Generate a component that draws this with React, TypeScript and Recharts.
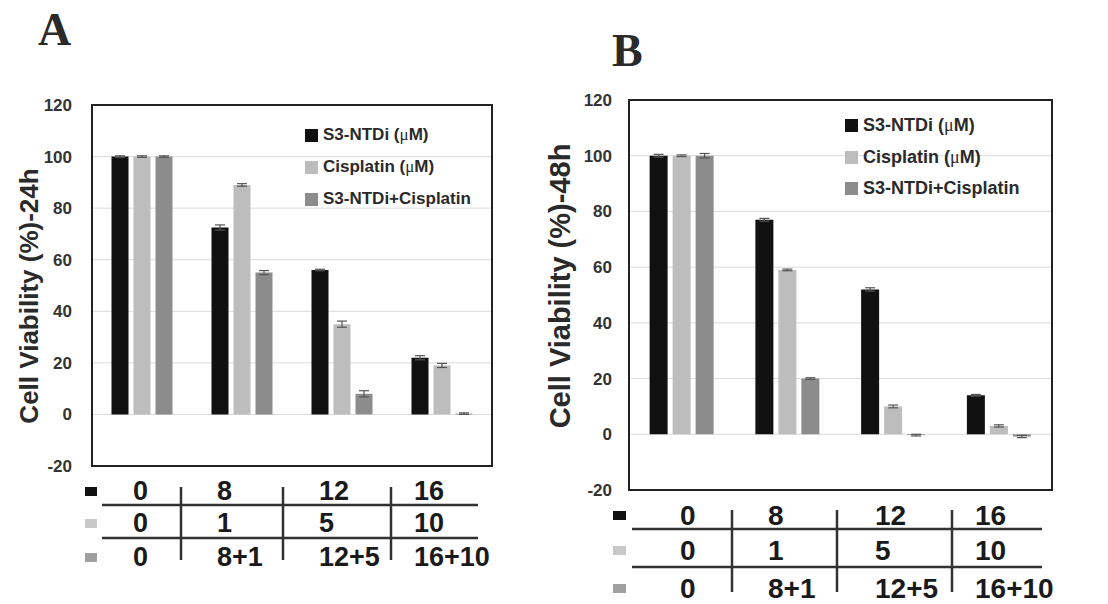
import { Bar, BarChart, CartesianGrid, ErrorBar, Legend, ReferenceArea, XAxis, YAxis } from "recharts";

const SANS = '"Liberation Sans", Arial, sans-serif';
const SERIF = '"Liberation Serif", "Times New Roman", serif';
const BLACK = "#111111";
const LIGHT = "#bdbdbd";
const MID = "#8c8c8c";
const INK = "#2a2a2a";

const groups = ["0", "8", "12", "16"];
const s3Doses = ["0", "8", "12", "16"];
const cisDoses = ["0", "1", "5", "10"];
const comboDoses = ["0", "8+1", "12+5", "16+10"];
const yTicks = [-20, 0, 20, 40, 60, 80, 100, 120];

// 24h
const s3_24h = [100, 72.5, 56, 22];
const cis_24h = [100, 89, 35, 19];
const combo_24h = [100, 55, 8, 0.3];
const s3Err_24h = [0.3, 1.0, 0.3, 0.8];
const cisErr_24h = [0.3, 0.5, 1.2, 0.8];
const comboErr_24h = [0.3, 0.8, 1.2, 0.3];

// 48h
const s3_48h = [100, 77, 52, 14];
const cis_48h = [100, 59, 10, 3];
const combo_48h = [100, 20, -0.3, -0.8];
const s3Err_48h = [0.5, 0.5, 0.6, 0.3];
const cisErr_48h = [0.3, 0.3, 0.5, 0.4];
const comboErr_48h = [0.8, 0.3, 0.3, 0.4];

const names = ["S3-NTDi (\u03bcM)", "Cisplatin (\u03bcM)", "S3-NTDi+Cisplatin"];
const doseRows = [s3Doses, cisDoses, comboDoses];
const rowColors = [BLACK, "#c8c8c8", "#a0a0a0"];

function buildRows(s3: number[], cis: number[], combo: number[], s3e: number[], cise: number[], combe: number[]) {
  return groups.map((g, i) => ({
    group: g,
    s3: s3[i],
    cis: cis[i],
    combo: combo[i],
    s3Err: s3e[i],
    cisErr: cise[i],
    comboErr: combe[i],
  }));
}

const data24 = buildRows(s3_24h, cis_24h, combo_24h, s3Err_24h, cisErr_24h, comboErr_24h);
const data48 = buildRows(s3_48h, cis_48h, combo_48h, s3Err_48h, cisErr_48h, comboErr_48h);

interface PanelProps {
  data: ReturnType<typeof buildRows>;
  left: number;
  width: number;
  axisWidth: number;
  top: number;
  bottom: number;
  right: number;
  yLabel: string;
  yLabelX: number;
  yLabelY: number;
  yLabelSize: number;
  tickMargin: number;
  legendTop: number;
  legendRow: number;
  legendSize: number;
}

// the mu in the original is set in a serif face
function LegendText({ text }: { text: string }) {
  const parts = text.split("\u03bc");
  if (parts.length < 2) return <span>{text}</span>;
  return (
    <span>
      {parts[0]}
      <span style={{ fontFamily: SERIF, fontWeight: 400 }}>{"\u03bc"}</span>
      {parts[1]}
    </span>
  );
}

function LegendBox({ payload, row, size }: { payload?: any[]; row: number; size: number }) {
  if (!payload?.length) return null;
  const items = [...payload].sort((a, b) => names.indexOf(a.value) - names.indexOf(b.value));
  return (
    <div style={{ fontFamily: SANS, fontWeight: 700, fontSize: size, color: INK }}>
      {items.map((p) => (
        <div key={p.value} style={{ display: "flex", alignItems: "center", height: row, whiteSpace: "nowrap" }}>
          <span style={{ display: "inline-block", width: 13, height: 13, background: p.color, marginRight: 5 }} />
          <LegendText text={p.value} />
        </div>
      ))}
    </div>
  );
}

function Panel(p: PanelProps) {
  return (
    <div style={{ position: "absolute", left: p.left, top: 0 }}>
      <BarChart
        width={p.width}
        height={604}
        data={p.data}
        margin={{ top: p.top, right: p.right, bottom: p.bottom, left: 0 }}
        barCategoryGap="19.5%"
        barGap={5}
      >
        <CartesianGrid stroke="#dcdcdc" vertical={false} />
        <XAxis dataKey="group" hide />
        <YAxis
          type="number"
          domain={[-20, 120]}
          ticks={yTicks}
          interval={0}
          width={p.axisWidth}
          axisLine={false}
          tickLine={false}
          tickSize={0}
          tickMargin={p.tickMargin}
          tick={{ fill: "#333", fontSize: 17, fontWeight: 700, fontFamily: SANS }}
          label={() => (
            <text
              x={p.yLabelX}
              y={p.yLabelY}
              transform={`rotate(-90 ${p.yLabelX} ${p.yLabelY})`}
              textAnchor="middle"
              fontFamily={SANS}
              fontWeight={700}
              fontSize={p.yLabelSize}
              fill={INK}
            >
              {p.yLabel}
            </text>
          )}
        />
        <Legend
          layout="vertical"
          align="center"
          verticalAlign="middle"
          wrapperStyle={{ left: 305, top: p.legendTop, width: 220 }}
          content={(props: any) => <LegendBox payload={props.payload} row={p.legendRow} size={p.legendSize} />}
        />
        <Bar dataKey="s3" name={names[0]} fill={BLACK} isAnimationActive={false}>
          <ErrorBar dataKey="s3Err" width={5} stroke="#555" strokeWidth={1.2} isAnimationActive={false} />
        </Bar>
        <Bar dataKey="cis" name={names[1]} fill={LIGHT} isAnimationActive={false}>
          <ErrorBar dataKey="cisErr" width={5} stroke="#555" strokeWidth={1.2} isAnimationActive={false} />
        </Bar>
        <Bar dataKey="combo" name={names[2]} fill={MID} isAnimationActive={false}>
          <ErrorBar dataKey="comboErr" width={5} stroke="#555" strokeWidth={1.2} isAnimationActive={false} />
        </Bar>
        <ReferenceArea y1={-20} y2={120} fill="none" stroke="#222" strokeWidth={2} ifOverflow="visible" />
      </BarChart>
    </div>
  );
}

interface TableLayout {
  squareX: number;
  squareW: number;
  rowY: number[];
  colX: number[];
  hLines: number[];
  hx: [number, number];
  vLines: number[];
  vy: [number, number];
  fontSize: number;
}

const tableA: TableLayout = {
  squareX: 85,
  squareW: 12,
  rowY: [491, 523, 557],
  colX: [133, 217, 319, 414],
  hLines: [505, 538],
  hx: [102, 478],
  vLines: [181, 283, 391],
  vy: [487, 560],
  fontSize: 27,
};

const tableB: TableLayout = {
  squareX: 613,
  squareW: 13,
  rowY: [515, 550, 588],
  colX: [680, 768, 875, 975],
  hLines: [529, 567],
  hx: [632, 1042],
  vLines: [732, 837, 952],
  vy: [510, 592],
  fontSize: 28,
};

function DoseTable({ t }: { t: TableLayout }) {
  return (
    <g>
      {t.hLines.map((y) => (
        <line key={`h${y}`} x1={t.hx[0]} x2={t.hx[1]} y1={y} y2={y} stroke="#333" strokeWidth={2.5} />
      ))}
      {t.vLines.map((x) => (
        <line key={`v${x}`} x1={x} x2={x} y1={t.vy[0]} y2={t.vy[1]} stroke="#333" strokeWidth={2.5} />
      ))}
      {doseRows.map((row, r) => (
        <g key={r}>
          <rect x={t.squareX} y={t.rowY[r] - 4} width={t.squareW} height={9} fill={rowColors[r]} />
          {row.map((label, c) => (
            <text
              key={c}
              x={t.colX[c]}
              y={t.rowY[r]}
              dominantBaseline="central"
              fontFamily={SANS}
              fontWeight={700}
              fontSize={t.fontSize}
              fill="#1a1a1a"
            >
              {label}
            </text>
          ))}
        </g>
      ))}
    </g>
  );
}

export default function App() {
  return (
    <div style={{ position: "absolute", left: 0, top: 0, width: 1108, height: 604, background: "#fff", overflow: "hidden" }}>
      <Panel
        data={data24}
        left={0}
        width={520}
        axisWidth={92}
        top={105}
        bottom={138}
        right={28}
        yLabel="Cell Viability (%)-24h"
        yLabelX={38}
        yLabelY={296}
        yLabelSize={26}
        tickMargin={20}
        legendTop={119}
        legendRow={32}
        legendSize={17}
      />
      <Panel
        data={data48}
        left={540}
        width={568}
        axisWidth={89}
        top={100}
        bottom={114}
        right={56}
        yLabel="Cell Viability (%)-48h"
        yLabelX={30}
        yLabelY={286}
        yLabelSize={29}
        tickMargin={17}
        legendTop={110}
        legendRow={31.5}
        legendSize={18}
      />
      <svg width={1108} height={604} style={{ position: "absolute", left: 0, top: 0, pointerEvents: "none" }}>
        <text x={38} y={45} fontFamily={SERIF} fontWeight={700} fontSize={46} fill={INK}>A</text>
        <text x={612} y={66} fontFamily={SERIF} fontWeight={700} fontSize={46} fill={INK}>B</text>
        <DoseTable t={tableA} />
        <DoseTable t={tableB} />
      </svg>
    </div>
  );
}
